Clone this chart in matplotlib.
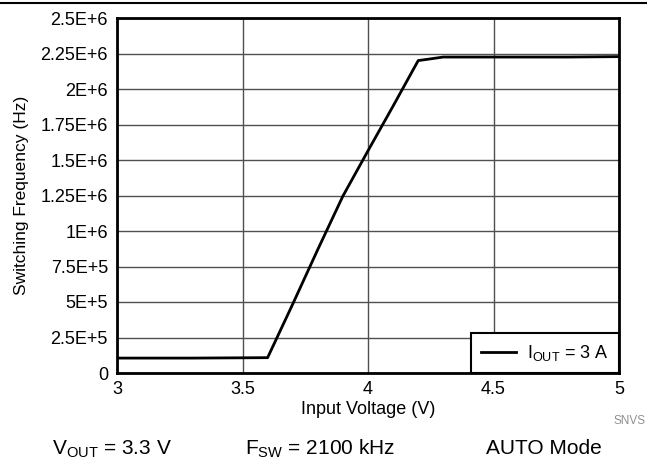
import matplotlib.pyplot as plt
from matplotlib.ticker import FixedLocator

plt.rcParams["font.family"] = ["Liberation Sans", "DejaVu Sans"]

vin = [3.0, 3.3, 3.6, 3.7, 3.8, 3.9, 4.0, 4.1, 4.2, 4.3, 4.5, 4.8, 5.0]
fsw = [1.05e5, 1.05e5, 1.08e5, 4.85e5, 8.7e5, 1.246e6, 1.565e6, 1.88e6, 2.2e6, 2.225e6, 2.225e6, 2.225e6, 2.228e6]

x_ticks = [3, 3.5, 4, 4.5, 5]
x_labels = ["3", "3.5", "4", "4.5", "5"]
y_ticks = [0, 2.5e5, 5e5, 7.5e5, 1e6, 1.25e6, 1.5e6, 1.75e6, 2e6, 2.25e6, 2.5e6]
y_labels = ["0", "2.5E+5", "5E+5", "7.5E+5", "1E+6", "1.25E+6", "1.5E+6",
            "1.75E+6", "2E+6", "2.25E+6", "2.5E+6"]

fig = plt.figure(figsize=(6.47, 4.59), dpi=100)
ax = fig.add_axes([117 / 647, 1 - 373 / 459, 502 / 647, 355 / 459])

ax.plot(vin, fsw, color="black", linewidth=2, label=r"I$_{\mathregular{OUT}}$ = 3 A")
ax.set_xlim(3, 5)
ax.set_ylim(0, 2.5e6)
ax.xaxis.set_major_locator(FixedLocator(x_ticks))
ax.set_xticklabels(x_labels)
ax.yaxis.set_major_locator(FixedLocator(y_ticks))
ax.set_yticklabels(y_labels)
ax.tick_params(length=0, labelsize=13)
ax.tick_params(axis="y", pad=6.5)
ax.tick_params(axis="x", pad=6)
ax.grid(True, color="#505050", linewidth=1)
ax.set_axisbelow(True)
for spine in ax.spines.values():
    spine.set_linewidth(2)

ax.set_xlabel("Input Voltage (V)", fontsize=13, labelpad=2)
ax.set_ylabel("Switching Frequency (Hz)", fontsize=12.5, labelpad=8)

leg = ax.legend(loc="lower right", fontsize=13, frameon=True, fancybox=False,
                framealpha=1, borderaxespad=0, handlelength=1.9,
                handletextpad=0.65, borderpad=0.55)
leg.get_frame().set_edgecolor("black")
leg.get_frame().set_linewidth(1.5)

# header rule and footer conditions
fig.add_artist(plt.Line2D([0, 1], [1 - 2.5 / 459, 1 - 2.5 / 459], color="black", linewidth=1.5))
fig.text(52 / 647, 1 - 454 / 459, r"V$_{\mathregular{OUT}}$ = 3.3 V", fontsize=15, va="baseline")
fig.text(245 / 647, 1 - 454 / 459, r"F$_{\mathregular{SW}}$ = 2100 kHz", fontsize=15, va="baseline")
fig.text(486 / 647, 1 - 454 / 459, "AUTO Mode", fontsize=15, va="baseline")
fig.text(646 / 647, 1 - 421 / 459, "SNVS", fontsize=8.5, color="#909090", va="center", ha="right")

fig.savefig("out.png", dpi=100)
